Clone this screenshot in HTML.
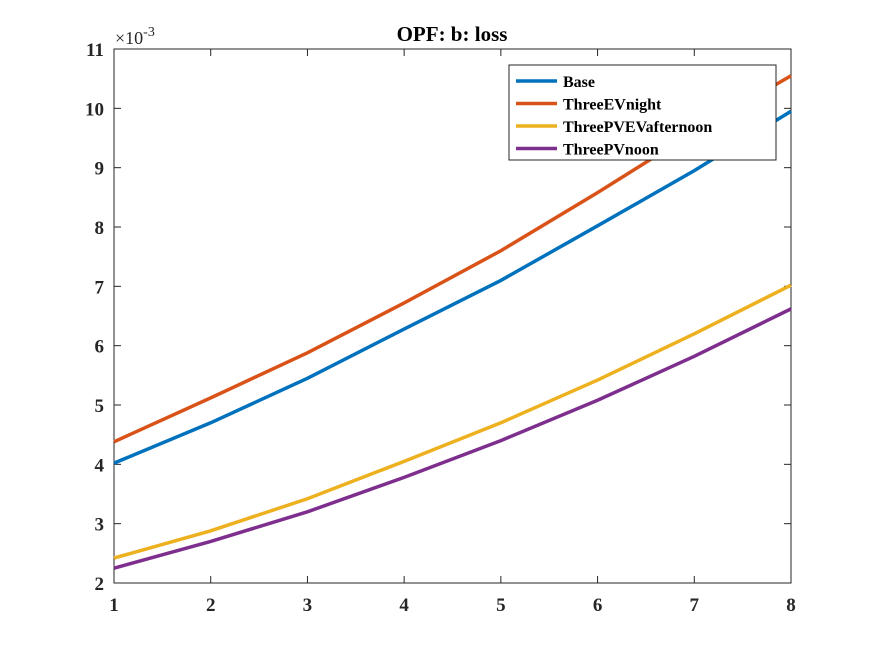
<!DOCTYPE html>
<html><head><meta charset="utf-8"><style>
body{margin:0;background:#fff}
svg{display:block;font-family:"Liberation Serif",serif;font-weight:bold}
</style></head><body>
<svg id="chart" width="875" height="656">
<rect width="875" height="656" fill="#fff"/>
<g id="plot"></g>
</svg>
<script>
const xCats=[1,2,3,4,5,6,7,8];
const yTicks=[2,3,4,5,6,7,8,9,10,11];
const seriesNames=["Base","ThreeEVnight","ThreePVEVafternoon","ThreePVnoon"];
const base=[4.02,4.7,5.45,6.28,7.1,8.02,8.95,9.95];
const evNight=[4.38,5.12,5.88,6.72,7.6,8.58,9.6,10.55];
const pvevAfternoon=[2.42,2.88,3.42,4.05,4.7,5.42,6.2,7.02];
const pvNoon=[2.25,2.7,3.2,3.78,4.4,5.08,5.82,6.62];
const colors=["#0072bd","#d95319","#edb120","#7e2f8e"];
const NS="http://www.w3.org/2000/svg";
const L=114,R=791,T=49,B=583;
const xs=v=>L+(v-1)*(R-L)/7;
const ys=v=>B-(v-2)*(B-T)/9;
const g=document.getElementById('plot');
function mk(tag,attrs,parent){const e=document.createElementNS(NS,tag);for(const k in attrs)e.setAttribute(k,attrs[k]);(parent||g).appendChild(e);return e;}
const box=mk('rect',{x:L,y:T,width:R-L,height:B-T,fill:'#fff',stroke:'#262626','stroke-width':1});


xCats.forEach(v=>{
  const t=mk('line',{x1:xs(v),x2:xs(v),y1:B,y2:B-7,stroke:'#262626'});
  
  
  mk('line',{x1:xs(v),x2:xs(v),y1:T,y2:T+7,stroke:'#262626'});
  const tx=mk('text',{x:xs(v),y:B+28,'text-anchor':'middle','font-size':19,fill:'#262626'});
  tx.textContent=v;
  
  
});
yTicks.forEach(v=>{
  const t=mk('line',{x1:L,x2:L+7,y1:ys(v),y2:ys(v),stroke:'#262626'});
  
  
  mk('line',{x1:R,x2:R-7,y1:ys(v),y2:ys(v),stroke:'#262626'});
  const tx=mk('text',{x:L-10,y:ys(v)+7,'text-anchor':'end','font-size':19,fill:'#262626'});
  tx.textContent=v;
  
  
});
const ex=mk('text',{x:115,y:44,'font-size':18,'font-weight':'normal',fill:'#262626'});
ex.innerHTML='×10<tspan dy="-8" font-size="14">-3</tspan>';


const title=mk('text',{x:452,y:41,'text-anchor':'middle','font-size':21,fill:'#000'});
title.textContent='OPF: b: loss';


[base,evNight,pvevAfternoon,pvNoon].forEach((s,i)=>{
  const p=mk('polyline',{points:s.map((v,j)=>xs(xCats[j])+','+ys(v)).join(' '),fill:'none',stroke:colors[i],'stroke-width':3.5});
  
  
});
const lg=mk('rect',{x:509,y:65,width:267,height:95,fill:'#fff',stroke:'#262626'});


seriesNames.forEach((n,i)=>{
  const y=81+i*22.5;
  mk('line',{x1:516,x2:557,y1:y,y2:y,stroke:colors[i],'stroke-width':3.5});
  const t=mk('text',{x:563,y:y+6,'font-size':16,fill:'#000'});
  t.textContent=n;
  
  
});
</script>
</body></html>
